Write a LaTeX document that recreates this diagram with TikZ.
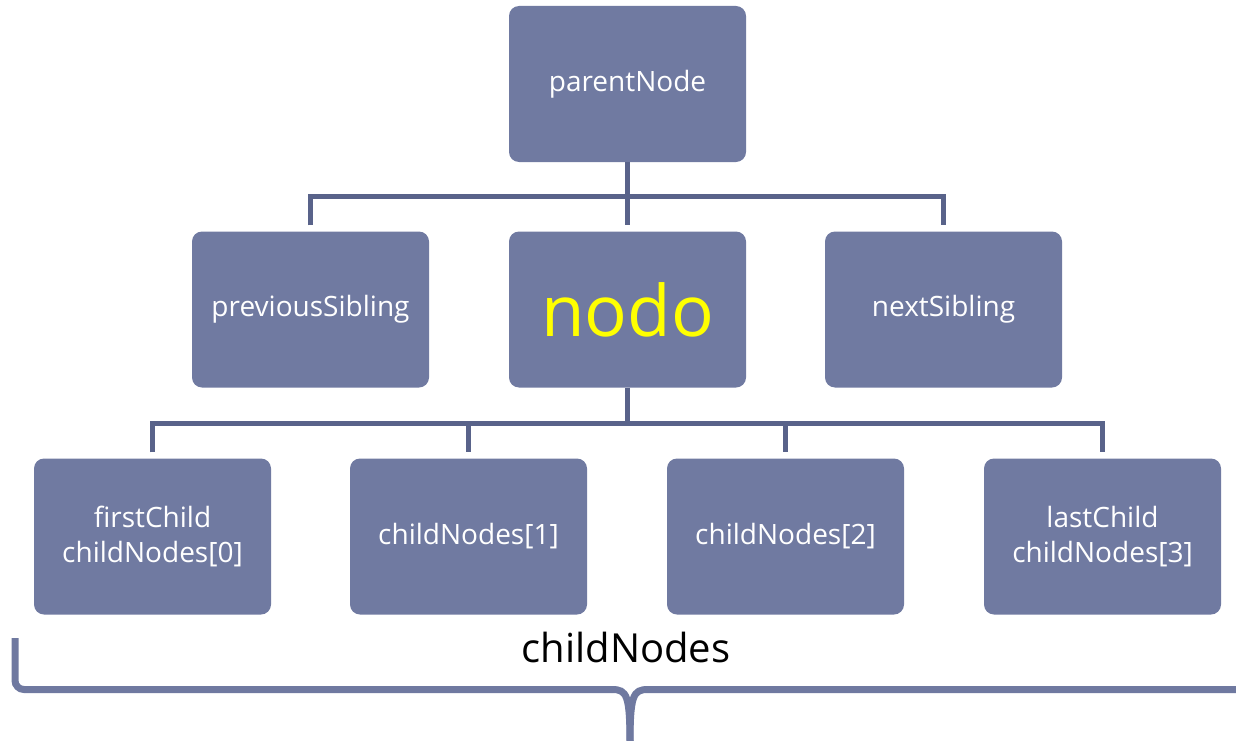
\documentclass[tikz,border=0pt]{standalone}
\usepackage{fontspec}
\setmainfont{Open Sans}
\definecolor{boxfill}{HTML}{707AA1}
\definecolor{connc}{HTML}{59638A}
\definecolor{bracec}{HTML}{6F79A0}
\begin{document}
\begin{tikzpicture}[x=1pt,y=-1pt,
  box/.style={draw=none, fill=boxfill, rounded corners=10pt, minimum width=237pt, minimum height=156pt, inner sep=0pt, text=white, align=center, font=\fontsize{28}{35}\selectfont},
  conn/.style={draw=connc, line width=5pt},
  bracestyle/.style={draw=bracec, line width=7pt}]
\useasboundingbox (0,0) rectangle (1236,741);
\node[box] (parent) at (627.5,84) {parentNode};
\node[box] (prev) at (310.5,309.5) {previousSibling};
\node[box, text={rgb,255:red,255;green,255;blue,0}, font=\fontsize{71}{80}\selectfont] (nodo) at (627.5,309.5) {nodo};
\node[box] (next) at (943.5,309.5) {nextSibling};
\node[box] (c0) at (152.5,536.5) {firstChild\\childNodes[0]};
\node[box] (c1) at (468.5,536.5) {childNodes[1]};
\node[box] (c2) at (785.5,536.5) {childNodes[2]};
\node[box] (c3) at (1102.5,536.5) {lastChild\\childNodes[3]};
\coordinate (j1) at (0,196.5);
\coordinate (j2) at (0,423.5);
\draw[conn] (parent.south) -- ([yshift=6pt]nodo.north);
\draw[conn] ([yshift=6pt]prev.north) -- (prev.north |- j1) -- (next.north |- j1) -- ([yshift=6pt]next.north);
\draw[conn] (nodo.south) -- (nodo.south |- j2);
\draw[conn] ([yshift=6pt]c0.north) -- (c0.north |- j2) -- (c3.north |- j2) -- ([yshift=6pt]c3.north);
\draw[conn] (c1.north |- j2) -- ([yshift=6pt]c1.north);
\draw[conn] (c2.north |- j2) -- ([yshift=6pt]c2.north);
\node[font=\fontsize{40}{48}\selectfont, text=black, inner sep=0pt] (lbl) at (626,647) {childNodes};
\coordinate (bl) at (15,638);
\coordinate (bc) at (630,745);
\coordinate (br) at (1240,689.5);
\draw[bracestyle, rounded corners=9pt] (bl) -- (15,689.5) -- (612,689.5);
\draw[bracestyle] (612,689.5) .. controls (627,689.5) and (630,695) .. (bc);
\draw[bracestyle] (br) -- (648,689.5) .. controls (633,689.5) and (630,695) .. (bc);
\end{tikzpicture}
\end{document}
